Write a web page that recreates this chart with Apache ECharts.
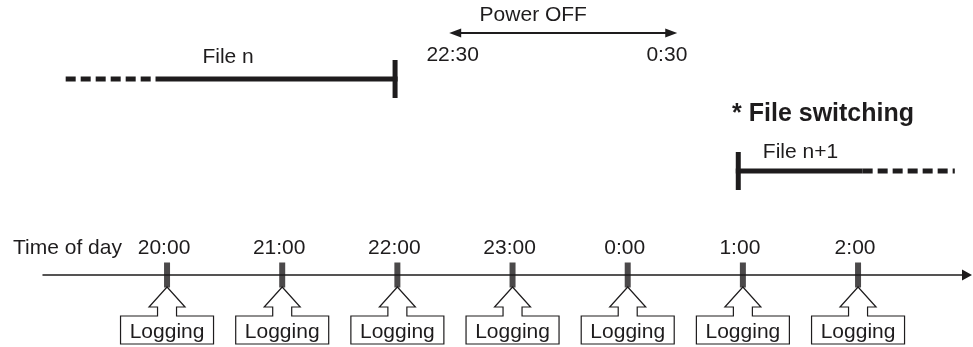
<!DOCTYPE html>
<html><head><meta charset="utf-8">
<script src="https://cdn.jsdelivr.net/npm/echarts@6/dist/echarts.min.js"></script>
<style>html,body{margin:0;padding:0;background:#fff}#c{width:973px;height:347px}</style>
</head><body><div id="c"></div>
<script>
// ---- data ----
const hours = [20, 21, 22, 23, 24, 25, 26];
const tickLabels = ['20:00', '21:00', '22:00', '23:00', '0:00', '1:00', '2:00'];
const loggingTimes = [20, 21, 22, 23, 24, 25, 26];
const loggingText = 'Logging';
const axisName = 'Time of day';
const fileNSegment = [19.12, 19.9, 21.98];    // dashed start, solid start, end (bar)
const fileN1Segment = [24.96, 26.04, 26.84];  // start (bar), solid end, dashed end
const fileNames = ['File n', 'File n+1'];
const fileNameTimes = [20.53, 25.5];
const powerOffRange = [22.45, 24.43];
const powerOffTitle = 'Power OFF';
const powerOffTitleTime = 23.18;
const powerOffLabels = ['22:30', '0:30'];
const powerOffLabelTimes = [22.48, 24.34];
const switchTitle = '* File switching';
const switchTitleTime = 24.906;

// ---- layout (pixel rows on hidden y axis) ----
const ROW = { pTitle: 15, pArrow: 33, pLabel: 55, fNText: 57, fNLine: 79, fNBar: [60, 98],
  sw: 114, fN1Text: 152, fN1Line: 171, fN1Bar: [152, 190], axis: 275 };
const INK = '#1e1c1d';
const FONT = '"Liberation Sans", Arial, Helvetica, sans-serif';

const chart = echarts.init(document.getElementById('c'), null, { renderer: 'canvas' });

function txt(x, y, text, opts) {
  return { type: 'text', style: Object.assign({ x, y, text, fill: INK, fontSize: 21,
    fontFamily: FONT, align: 'center', verticalAlign: 'middle' }, opts || {}) };
}
function seg(p1, p2, w, dash) {
  return { type: 'line', shape: { x1: p1[0], y1: p1[1], x2: p2[0], y2: p2[1] },
    style: { stroke: INK, lineWidth: w, lineDash: dash || null, lineCap: 'butt' } };
}

const option = {
  animation: false,
  grid: { left: 43, right: 6, top: 0, height: 275 },
  xAxis: {
    type: 'value', min: 18.923, max: 26.946, position: 'bottom',
    splitLine: { show: false }, axisTick: { show: false },
    axisLine: { show: true, onZero: false, symbol: ['none', 'triangle'], symbolSize: [11, 10],
      lineStyle: { color: INK, width: 1.5 } },
    axisLabel: { inside: true, customValues: hours, margin: 16, fontSize: 21, color: INK,
      fontFamily: FONT, padding: [0, 6, 0, 0],
      formatter: v => tickLabels[hours.indexOf(v)] || '' },
    name: axisName, nameLocation: 'start', nameGap: 30,
    nameTextStyle: { align: 'left', verticalAlign: 'bottom', fontSize: 21, color: INK,
      fontFamily: FONT, padding: [0, 0, 16, 0] }
  },
  yAxis: { type: 'value', min: 0, max: 275, inverse: true, show: false },
  series: [
    { // tick marks on the time axis
      type: 'scatter', silent: true, symbol: 'rect', symbolSize: [6, 25],
      itemStyle: { color: INK }, data: hours.map(h => [h, ROW.axis])
    },
    { // logging call-outs
      type: 'custom', silent: true, clip: false,
      data: loggingTimes.map(h => [h]),
      renderItem: (params, api) => {
        const p = api.coord([api.value(0), ROW.axis]);
        const cx = p[0], y0 = p[1];
        const pts = [[0, 12], [18, 32], [9.5, 32], [9.5, 41], [46.5, 41], [46.5, 69], [-46.5, 69],
          [-46.5, 41], [-9.5, 41], [-9.5, 32], [-18, 32]].map(d => [cx + d[0], y0 + d[1]]);
        return { type: 'group', children: [
          { type: 'polygon', shape: { points: pts }, style: { fill: '#fff', stroke: INK, lineWidth: 1.2 } },
          txt(cx, y0 + 57, loggingText)
        ] };
      }
    },
    { // File n
      type: 'custom', silent: true, clip: false, data: [fileNSegment],
      renderItem: (params, api) => {
        const a = api.coord([api.value(0), ROW.fNLine]);
        const b = api.coord([api.value(1), ROW.fNLine]);
        const c = api.coord([api.value(2), ROW.fNLine]);
        const t = api.coord([fileNameTimes[0], ROW.fNText]);
        return { type: 'group', children: [
          seg(a, b, 5, [10, 5]), seg(b, [c[0] + 2.5, c[1]], 5),
          seg([c[0], ROW.fNBar[0]], [c[0], ROW.fNBar[1]], 5),
          txt(t[0], t[1], fileNames[0])
        ] };
      }
    },
    { // File n+1
      type: 'custom', silent: true, clip: false, data: [fileN1Segment],
      renderItem: (params, api) => {
        const a = api.coord([api.value(0), ROW.fN1Line]);
        const b = api.coord([api.value(1), ROW.fN1Line]);
        const c = api.coord([api.value(2), ROW.fN1Line]);
        const t = api.coord([fileNameTimes[1], ROW.fN1Text]);
        const s = api.coord([switchTitleTime, ROW.sw]);
        return { type: 'group', children: [
          seg([a[0] - 2.5, a[1]], b, 5), seg(b, c, 5, [10, 5]),
          seg([a[0], ROW.fN1Bar[0]], [a[0], ROW.fN1Bar[1]], 5),
          txt(t[0], t[1], fileNames[1]),
          txt(s[0], s[1], switchTitle, { align: 'left', fontSize: 25, fontWeight: 'bold' })
        ] };
      }
    },
    { // Power OFF double arrow
      type: 'custom', silent: true, clip: false, data: [powerOffRange],
      renderItem: (params, api) => {
        const a = api.coord([api.value(0), ROW.pArrow]);
        const b = api.coord([api.value(1), ROW.pArrow]);
        const L = 12, H = 4.5;
        const t = api.coord([powerOffTitleTime, ROW.pTitle]);
        const l1 = api.coord([powerOffLabelTimes[0], ROW.pLabel]);
        const l2 = api.coord([powerOffLabelTimes[1], ROW.pLabel]);
        return { type: 'group', children: [
          seg([a[0] + L - 1, a[1]], [b[0] - L + 1, b[1]], 2),
          { type: 'polygon', shape: { points: [[a[0], a[1]], [a[0] + L, a[1] - H], [a[0] + L, a[1] + H]] }, style: { fill: INK } },
          { type: 'polygon', shape: { points: [[b[0], b[1]], [b[0] - L, b[1] - H], [b[0] - L, b[1] + H]] }, style: { fill: INK } },
          txt(t[0], t[1], powerOffTitle),
          txt(l1[0], l1[1], powerOffLabels[0]),
          txt(l2[0], l2[1], powerOffLabels[1])
        ] };
      }
    }
  ]
};
chart.setOption(option);
</script>
</body></html>
